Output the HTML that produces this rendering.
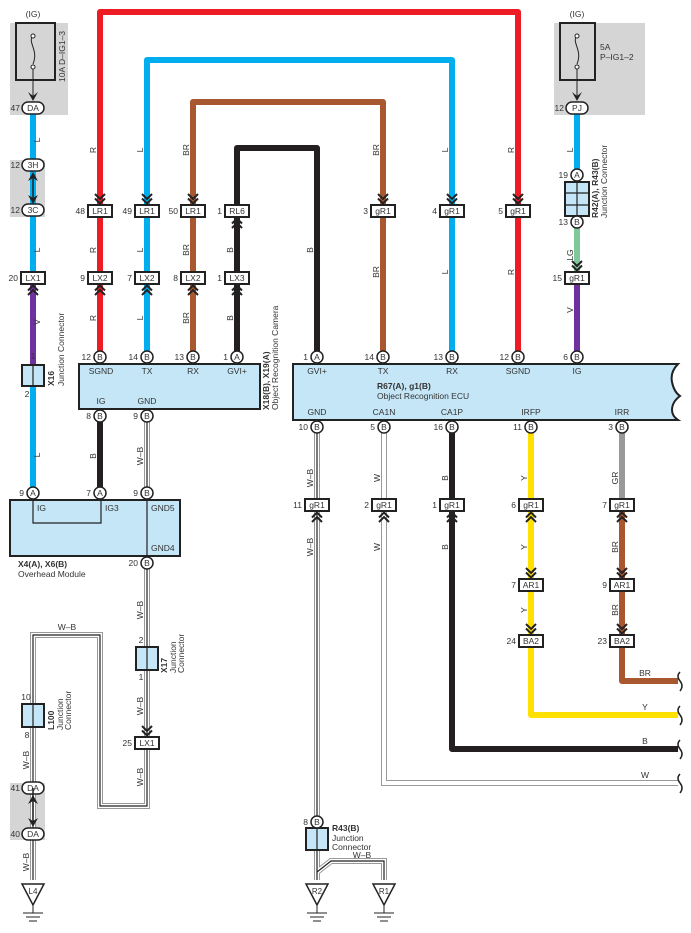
<!DOCTYPE html>
<html><head><meta charset="utf-8"><style>
html,body{margin:0;padding:0;background:#fff}
svg{display:block;font-family:"Liberation Sans",sans-serif}
text{fill:#333;font-size:8.5px}
.b{font-weight:bold}
.c{text-anchor:middle}
.e{text-anchor:end}
</style></head><body>
<svg width="691" height="933" viewBox="0 0 691 933" xmlns="http://www.w3.org/2000/svg">
<defs>
<path id="cd" d="M-5,-10 L0,-5 L5,-10 M-5,-5.5 L0,-0.5 L5,-5.5" fill="none" stroke="#222" stroke-width="2"/>
<path id="cu" d="M-5,10 L0,5 L5,10 M-5,5.5 L0,0.5 L5,5.5" fill="none" stroke="#222" stroke-width="2"/>
</defs>
<!-- gray boxes -->
<rect x="10" y="23" width="58" height="92" fill="#d5d5d6"/>
<rect x="10" y="160" width="35" height="57" fill="#d5d5d6"/>
<rect x="554" y="23" width="91" height="92" fill="#d5d5d6"/>
<rect x="10" y="783" width="35" height="57" fill="#d5d5d6"/>

<!-- main wires -->
<g fill="none" stroke-width="6" stroke-linejoin="round">
<path d="M100,357 V12 H518 V357" stroke="#ed1c24"/>
<path d="M147,357 V60 H452 V357" stroke="#00aeef"/>
<path d="M193,357 V102 H383 V357" stroke="#a9572f"/>
<path d="M237,357 V148 H317 V357" stroke="#231f20"/>
<path d="M33,108 V278" stroke="#00aeef"/>
<path d="M33,278 V365" stroke="#7030a0"/>
<path d="M33,386 V493" stroke="#00aeef"/>
<path d="M577,108 V175" stroke="#00aeef"/>
<path d="M577,222 V278" stroke="#7fc89a"/>
<path d="M577,278 V357" stroke="#7030a0"/>
<path d="M100,416 V493" stroke="#231f20"/>
<path d="M452,427 V749 H678" stroke="#231f20"/>
<path d="M531,427 V715 H678" stroke="#ffe000"/>
<path d="M622,427 V505" stroke="#999"/>
<path d="M622,505 V681 H678" stroke="#a9572f"/>
</g>
<!-- W-B and W wires -->
<g fill="none" stroke-linejoin="miter">
<path d="M147,416 V493 M147,563 V806 H100 V635 H33 V880 M317,427 V880 M317,872 L331,861 H384 V880" stroke="#999" stroke-width="6"/>
<path d="M147,416 V493 M147,563 V806 H100 V635 H33 V880 M317,427 V880 M317,872 L331,861 H384 V880" stroke="#fff" stroke-width="4"/>
<path d="M147,416 V493 M147,563 V806 H100 V635 H33 V880 M317,427 V880 M317,872 L331,861 H384 V880" stroke="#222" stroke-width="1.2"/>
<path d="M384,427 V783 H678" stroke="#999" stroke-width="6"/>
<path d="M384,427 V783 H678" stroke="#fff" stroke-width="4"/>
</g>
<!-- wire end squiggles -->
<g fill="none" stroke="#222" stroke-width="1.5">
<path d="M680,672 q-4,4 0,9 q4,5 0,10"/>
<path d="M680,706 q-4,4 0,9 q4,5 0,10"/>
<path d="M680,740 q-4,4 0,9 q4,5 0,10"/>
<path d="M680,774 q-4,4 0,9 q4,5 0,10"/>
</g>

<!-- fuses -->
<rect x="16" y="23" width="39" height="57" fill="none" stroke="#222" stroke-width="2"/>
<path d="M33,36 c-6,6 6,14 0,28" fill="none" stroke="#222"/>
<circle cx="33" cy="36" r="2" fill="#fff" stroke="#222"/><circle cx="33" cy="67" r="2" fill="#fff" stroke="#222"/>
<path d="M33,69 V100" stroke="#222"/><path d="M28,92 L33,101 L38,92 L33,96Z" fill="#222"/>
<text x="33" y="17" class="c">(IG)</text>
<text transform="translate(65,82) rotate(-90)">10A D–IG1–3</text>
<rect x="560" y="23" width="35" height="57" fill="none" stroke="#222" stroke-width="2"/>
<path d="M577,36 c-6,6 6,14 0,28" fill="none" stroke="#222"/>
<circle cx="577" cy="36" r="2" fill="#fff" stroke="#222"/><circle cx="577" cy="67" r="2" fill="#fff" stroke="#222"/>
<path d="M577,69 V100" stroke="#222"/><path d="M572,92 L577,101 L582,92 L577,96Z" fill="#222"/>
<text x="577" y="17" class="c">(IG)</text>
<text x="600" y="50">5A</text><text x="600" y="60">P–IG1–2</text>

<!-- ovals -->
<g fill="#fff" stroke="#222" stroke-width="1.5">
<rect x="22" y="102" width="22" height="12" rx="6"/>
<rect x="22" y="159" width="22" height="12" rx="6"/>
<rect x="22" y="204" width="22" height="12" rx="6"/>
<rect x="566" y="102" width="22" height="12" rx="6"/>
<rect x="22" y="782" width="22" height="12" rx="6"/>
<rect x="22" y="828" width="22" height="12" rx="6"/>
</g>
<g class="c"><text x="33" y="111" class="c">DA</text><text x="33" y="168" class="c">3H</text><text x="33" y="213" class="c">3C</text><text x="577" y="111" class="c">PJ</text><text x="33" y="791" class="c">DA</text><text x="33" y="837" class="c">DA</text></g>
<text x="20" y="111" class="e">47</text><text x="20" y="168" class="e">12</text><text x="20" y="213" class="e">12</text><text x="564" y="111" class="e">12</text><text x="20" y="791" class="e">41</text><text x="20" y="837" class="e">40</text>
<!-- double arrows -->
<path d="M33,174 V202 M33,788 V822" stroke="#222" stroke-width="1.5"/>
<path d="M28,181 L33,172 L38,181 L33,178Z M28,195 L33,204 L38,195 L33,198Z M28,804 L33,795 L38,804 L33,801Z M28,818 L33,827 L38,818 L33,821Z" fill="#222"/>

<!-- connector boxes -->
<g fill="#fff" stroke="#222" stroke-width="2">
<rect x="88" y="205" width="24" height="12"/><rect x="135" y="205" width="24" height="12"/><rect x="181" y="205" width="24" height="12"/><rect x="225" y="205" width="24" height="12"/>
<rect x="88" y="272" width="24" height="12"/><rect x="135" y="272" width="24" height="12"/><rect x="181" y="272" width="24" height="12"/><rect x="225" y="272" width="24" height="12"/>
<rect x="21" y="272" width="24" height="12"/>
<rect x="371" y="205" width="24" height="12"/><rect x="440" y="205" width="24" height="12"/><rect x="506" y="205" width="24" height="12"/>
<rect x="565" y="272" width="24" height="12"/>
<rect x="305" y="499" width="24" height="12"/><rect x="372" y="499" width="24" height="12"/><rect x="440" y="499" width="24" height="12"/><rect x="519" y="499" width="24" height="12"/><rect x="610" y="499" width="24" height="12"/>
<rect x="519" y="579" width="24" height="12"/><rect x="610" y="579" width="24" height="12"/>
<rect x="519" y="635" width="24" height="12"/><rect x="610" y="635" width="24" height="12"/>
<rect x="135" y="737" width="24" height="12"/>
</g>
<g class="c">
<text x="100" y="214" class="c">LR1</text><text x="147" y="214" class="c">LR1</text><text x="193" y="214" class="c">LR1</text><text x="237" y="214" class="c">RL6</text>
<text x="100" y="281" class="c">LX2</text><text x="147" y="281" class="c">LX2</text><text x="193" y="281" class="c">LX2</text><text x="237" y="281" class="c">LX3</text>
<text x="33" y="281" class="c">LX1</text>
<text x="383" y="214" class="c">gR1</text><text x="452" y="214" class="c">gR1</text><text x="518" y="214" class="c">gR1</text>
<text x="577" y="281" class="c">gR1</text>
<text x="317" y="508" class="c">gR1</text><text x="384" y="508" class="c">gR1</text><text x="452" y="508" class="c">gR1</text><text x="531" y="508" class="c">gR1</text><text x="622" y="508" class="c">gR1</text>
<text x="531" y="588" class="c">AR1</text><text x="622" y="588" class="c">AR1</text>
<text x="531" y="644" class="c">BA2</text><text x="622" y="644" class="c">BA2</text>
<text x="147" y="746" class="c">LX1</text>
</g>
<text x="85" y="214" class="e">48</text><text x="132" y="214" class="e">49</text><text x="178" y="214" class="e">50</text><text x="222" y="214" class="e">1</text>
<text x="85" y="281" class="e">9</text><text x="132" y="281" class="e">7</text><text x="178" y="281" class="e">8</text><text x="222" y="281" class="e">1</text>
<text x="18" y="281" class="e">20</text>
<text x="368" y="214" class="e">3</text><text x="437" y="214" class="e">4</text><text x="503" y="214" class="e">5</text>
<text x="562" y="281" class="e">15</text>
<text x="302" y="508" class="e">11</text><text x="369" y="508" class="e">2</text><text x="437" y="508" class="e">1</text><text x="516" y="508" class="e">6</text><text x="607" y="508" class="e">7</text>
<text x="516" y="588" class="e">7</text><text x="607" y="588" class="e">9</text>
<text x="516" y="644" class="e">24</text><text x="607" y="644" class="e">23</text>
<text x="132" y="746" class="e">25</text>

<!-- chevrons -->
<use href="#cd" x="100" y="204"/><use href="#cd" x="147" y="204"/><use href="#cd" x="193" y="204"/><use href="#cu" x="237" y="218"/>
<use href="#cu" x="100" y="285"/><use href="#cu" x="147" y="285"/><use href="#cu" x="193" y="285"/><use href="#cu" x="237" y="285"/><use href="#cu" x="33" y="285"/>
<use href="#cd" x="383" y="204"/><use href="#cd" x="452" y="204"/><use href="#cd" x="518" y="204"/><use href="#cd" x="577" y="271"/>
<use href="#cu" x="317" y="512"/><use href="#cu" x="384" y="512"/><use href="#cu" x="452" y="512"/><use href="#cu" x="531" y="512"/><use href="#cu" x="622" y="512"/>
<use href="#cd" x="531" y="578"/><use href="#cd" x="622" y="578"/><use href="#cd" x="531" y="634"/><use href="#cd" x="622" y="634"/>
<use href="#cd" x="147" y="736"/>

<!-- junction connectors -->
<g fill="#c5e6f7" stroke="#222" stroke-width="2">
<rect x="22" y="365" width="22" height="21"/>
<rect x="136" y="647" width="22" height="23"/>
<rect x="22" y="704" width="22" height="23"/>
<rect x="306" y="828" width="22" height="22"/>
<rect x="565" y="182" width="24" height="34"/>
</g>
<path d="M33,365 V386 M147,647 V670 M33,704 V727 M317,828 V850 M577,182 V216 M565,193 H589 M565,205 H589" stroke="#222" stroke-width="1.2"/>
<text x="33" y="359" class="c">1</text><text x="27" y="397" class="c">2</text>
<text transform="translate(54,386) rotate(-90)" class="b">X16</text><text transform="translate(64,386) rotate(-90)">Junction Connector</text>
<text x="141" y="643" class="c">2</text><text x="141" y="680" class="c">1</text>
<text transform="translate(167,673) rotate(-90)" class="b">X17</text><text transform="translate(176,673) rotate(-90)">Junction</text><text transform="translate(184,673) rotate(-90)">Connector</text>
<text x="26" y="700" class="c">10</text><text x="27" y="738" class="c">8</text>
<text transform="translate(54,730) rotate(-90)" class="b">L100</text><text transform="translate(63,730) rotate(-90)">Junction</text><text transform="translate(71,730) rotate(-90)">Connector</text>
<text x="332" y="831" class="b">R43(B)</text><text x="332" y="841">Junction</text><text x="332" y="850">Connector</text>
<text transform="translate(598,218) rotate(-90)" class="b">R42(A), R43(B)</text><text transform="translate(607,218) rotate(-90)">Junction Connector</text>

<!-- camera -->
<rect x="79" y="364" width="181" height="45" fill="#c5e6f7" stroke="#222" stroke-width="2"/>
<text x="101" y="374" class="c">SGND</text><text x="147" y="374" class="c">TX</text><text x="193" y="374" class="c">RX</text><text x="237" y="374" class="c">GVI+</text>
<text x="101" y="404" class="c">IG</text><text x="147" y="404" class="c">GND</text>
<text transform="translate(269,410) rotate(-90)" class="b">X18(B), X19(A)</text><text transform="translate(278,410) rotate(-90)">Object Recognition Camera</text>
<!-- overhead module -->
<rect x="10" y="500" width="170" height="56" fill="#c5e6f7" stroke="#222" stroke-width="2"/>
<path d="M33,500 V523 H101 V500 M147,500 V556" fill="none" stroke="#222" stroke-width="1.2"/>
<text x="37" y="511">IG</text><text x="105" y="511">IG3</text><text x="151" y="511">GND5</text><text x="151" y="551">GND4</text>
<text x="18" y="567" class="b">X4(A), X6(B)</text><text x="18" y="577">Overhead Module</text>
<!-- ECU -->
<path d="M293,364 H678 q-8,8 -6,18 q2,10 8,14 q-8,6 -8,14 q0,6 6,10 H293Z" fill="#c5e6f7" stroke="#222" stroke-width="2"/>
<text x="317" y="374" class="c">GVI+</text><text x="383" y="374" class="c">TX</text><text x="452" y="374" class="c">RX</text><text x="518" y="374" class="c">SGND</text><text x="577" y="374" class="c">IG</text>
<text x="377" y="389" class="b">R67(A), g1(B)</text><text x="377" y="399">Object Recognition ECU</text>
<text x="317" y="415" class="c">GND</text><text x="384" y="415" class="c">CA1N</text><text x="452" y="415" class="c">CA1P</text><text x="531" y="415" class="c">IRFP</text><text x="622" y="415" class="c">IRR</text>

<!-- pin circles -->
<g fill="#fff" stroke="#222" stroke-width="1.5">
<circle cx="100" cy="357" r="6"/><circle cx="147" cy="357" r="6"/><circle cx="193" cy="357" r="6"/><circle cx="237" cy="357" r="6"/>
<circle cx="100" cy="416" r="6"/><circle cx="147" cy="416" r="6"/>
<circle cx="33" cy="493" r="6"/><circle cx="100" cy="493" r="6"/><circle cx="147" cy="493" r="6"/><circle cx="147" cy="563" r="6"/>
<circle cx="317" cy="357" r="6"/><circle cx="383" cy="357" r="6"/><circle cx="452" cy="357" r="6"/><circle cx="518" cy="357" r="6"/><circle cx="577" cy="357" r="6"/>
<circle cx="317" cy="427" r="6"/><circle cx="384" cy="427" r="6"/><circle cx="452" cy="427" r="6"/><circle cx="531" cy="427" r="6"/><circle cx="622" cy="427" r="6"/>
<circle cx="577" cy="175" r="6"/><circle cx="577" cy="222" r="6"/><circle cx="317" cy="822" r="6"/>
</g>
<g style="font-size:8px">
<text x="100" y="360" class="c">B</text><text x="147" y="360" class="c">B</text><text x="193" y="360" class="c">B</text><text x="237" y="360" class="c">A</text>
<text x="100" y="419" class="c">B</text><text x="147" y="419" class="c">B</text>
<text x="33" y="496" class="c">A</text><text x="100" y="496" class="c">A</text><text x="147" y="496" class="c">B</text><text x="147" y="566" class="c">B</text>
<text x="317" y="360" class="c">A</text><text x="383" y="360" class="c">B</text><text x="452" y="360" class="c">B</text><text x="518" y="360" class="c">B</text><text x="577" y="360" class="c">B</text>
<text x="317" y="430" class="c">B</text><text x="384" y="430" class="c">B</text><text x="452" y="430" class="c">B</text><text x="531" y="430" class="c">B</text><text x="622" y="430" class="c">B</text>
<text x="577" y="178" class="c">A</text><text x="577" y="225" class="c">B</text><text x="317" y="825" class="c">B</text>
</g>
<text x="91" y="360" class="e">12</text><text x="138" y="360" class="e">14</text><text x="184" y="360" class="e">13</text><text x="228" y="360" class="e">1</text>
<text x="91" y="419" class="e">8</text><text x="138" y="419" class="e">9</text>
<text x="24" y="496" class="e">9</text><text x="91" y="496" class="e">7</text><text x="138" y="496" class="e">9</text><text x="138" y="566" class="e">20</text>
<text x="308" y="360" class="e">1</text><text x="374" y="360" class="e">14</text><text x="443" y="360" class="e">13</text><text x="509" y="360" class="e">12</text><text x="568" y="360" class="e">6</text>
<text x="308" y="430" class="e">10</text><text x="375" y="430" class="e">5</text><text x="443" y="430" class="e">16</text><text x="522" y="430" class="e">11</text><text x="613" y="430" class="e">3</text>
<text x="568" y="178" class="e">19</text><text x="568" y="225" class="e">13</text><text x="308" y="825" class="e">8</text>

<!-- grounds -->
<g fill="#fff" stroke="#222" stroke-width="1.5">
<path d="M22,884 H44 L33,905Z"/><path d="M306,884 H328 L317,905Z"/><path d="M373,884 H395 L384,905Z"/>
</g>
<path d="M33,905 V913 M23,913 H43 M26,917 H40 M29,921 H37 M317,905 V913 M307,913 H327 M310,917 H324 M313,921 H321 M384,905 V913 M374,913 H394 M377,917 H391 M380,921 H388" stroke="#222" stroke-width="1"/>
<text x="33" y="894" class="c" style="font-size:8px">L4</text><text x="317" y="894" class="c" style="font-size:8px">R2</text><text x="384" y="894" class="c" style="font-size:8px">R1</text>

<!-- wire labels (vertical) -->
<g>
<text transform="translate(40,140) rotate(-90)" class="c">L</text>
<text transform="translate(40,250) rotate(-90)" class="c">L</text>
<text transform="translate(40,322) rotate(-90)" class="c">V</text>
<text transform="translate(40,455) rotate(-90)" class="c">L</text>
<text transform="translate(96,150) rotate(-90)" class="c">R</text>
<text transform="translate(143,150) rotate(-90)" class="c">L</text>
<text transform="translate(189,150) rotate(-90)" class="c">BR</text>
<text transform="translate(96,250) rotate(-90)" class="c">R</text>
<text transform="translate(143,250) rotate(-90)" class="c">L</text>
<text transform="translate(189,250) rotate(-90)" class="c">BR</text>
<text transform="translate(233,250) rotate(-90)" class="c">B</text>
<text transform="translate(96,318) rotate(-90)" class="c">R</text>
<text transform="translate(143,318) rotate(-90)" class="c">L</text>
<text transform="translate(189,318) rotate(-90)" class="c">BR</text>
<text transform="translate(233,318) rotate(-90)" class="c">B</text>
<text transform="translate(96,456) rotate(-90)" class="c">B</text>
<text transform="translate(143,456) rotate(-90)" class="c">W–B</text>
<text transform="translate(143,610) rotate(-90)" class="c">W–B</text>
<text transform="translate(143,706) rotate(-90)" class="c">W–B</text>
<text transform="translate(143,777) rotate(-90)" class="c">W–B</text>
<text transform="translate(29,760) rotate(-90)" class="c">W–B</text>
<text transform="translate(29,862) rotate(-90)" class="c">W–B</text>
<text transform="translate(313,250) rotate(-90)" class="c">B</text>
<text transform="translate(379,150) rotate(-90)" class="c">BR</text>
<text transform="translate(379,272) rotate(-90)" class="c">BR</text>
<text transform="translate(448,150) rotate(-90)" class="c">L</text>
<text transform="translate(448,272) rotate(-90)" class="c">L</text>
<text transform="translate(514,150) rotate(-90)" class="c">R</text>
<text transform="translate(514,272) rotate(-90)" class="c">R</text>
<text transform="translate(573,150) rotate(-90)" class="c">L</text>
<text transform="translate(573,255) rotate(-90)" class="c">LG</text>
<text transform="translate(573,310) rotate(-90)" class="c">V</text>
<text transform="translate(313,478) rotate(-90)" class="c">W–B</text>
<text transform="translate(313,547) rotate(-90)" class="c">W–B</text>
<text transform="translate(380,478) rotate(-90)" class="c">W</text>
<text transform="translate(380,547) rotate(-90)" class="c">W</text>
<text transform="translate(448,478) rotate(-90)" class="c">B</text>
<text transform="translate(448,547) rotate(-90)" class="c">B</text>
<text transform="translate(527,478) rotate(-90)" class="c">Y</text>
<text transform="translate(527,547) rotate(-90)" class="c">Y</text>
<text transform="translate(527,610) rotate(-90)" class="c">Y</text>
<text transform="translate(618,478) rotate(-90)" class="c">GR</text>
<text transform="translate(618,547) rotate(-90)" class="c">BR</text>
<text transform="translate(618,610) rotate(-90)" class="c">BR</text>
</g>
<text x="67" y="630" class="c">W–B</text>
<text x="362" y="858" class="c">W–B</text>
<text x="645" y="676" class="c">BR</text>
<text x="645" y="710" class="c">Y</text>
<text x="645" y="744" class="c">B</text>
<text x="645" y="778" class="c">W</text>
</svg>
</body></html>
